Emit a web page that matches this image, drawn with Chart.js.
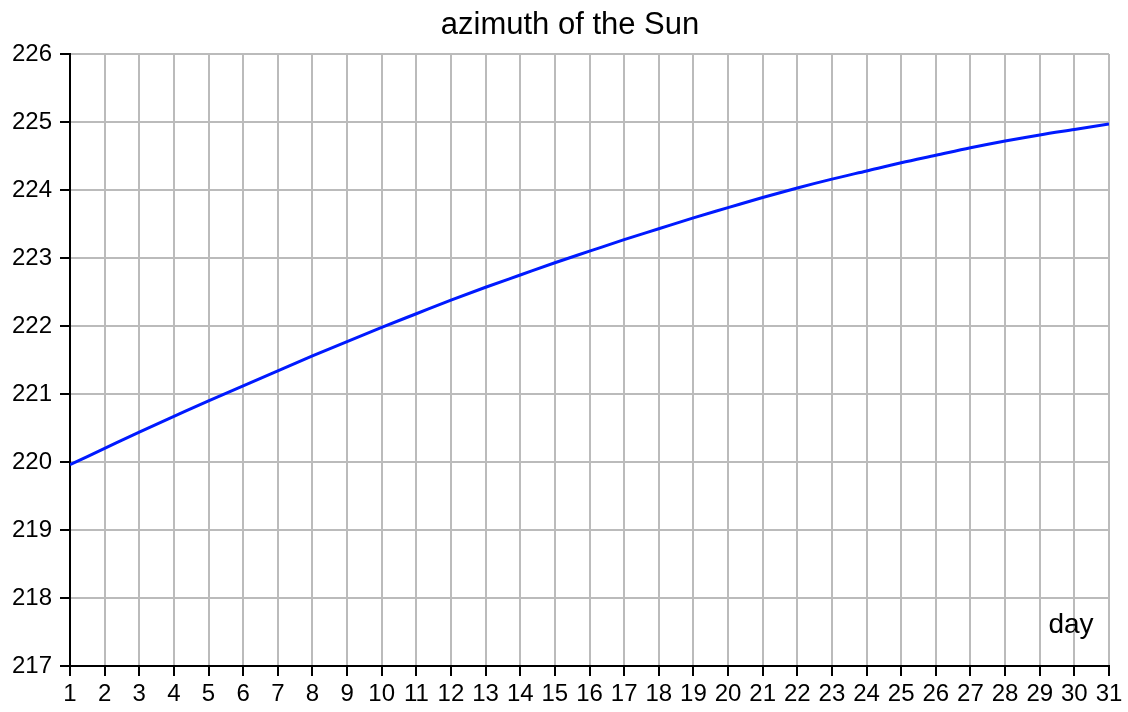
<!DOCTYPE html>
<html>
<head>
<meta charset="utf-8">
<script src="https://cdn.jsdelivr.net/npm/chart.js@4"></script>
<style>
  html, body { margin: 0; padding: 0; background: #fff; }
  #wrap { width: 1128px; height: 712px; position: relative; }
</style>
</head>
<body>
<div id="wrap"><canvas id="azimuth-chart"></canvas></div>
<script>
const chartTitle = 'azimuth of the Sun'
const xLabel = 'day'

const days = [1, 2, 3, 4, 5, 6, 7, 8, 9, 10, 11, 12, 13, 14, 15, 16, 17, 18, 19, 20, 21, 22, 23, 24, 25, 26, 27, 28, 29, 30, 31]
const azimuth = [
  219.96, 220.20, 220.44, 220.67, 220.90, 221.12, 221.34, 221.56, 221.77, 221.98,
  222.18, 222.38, 222.57, 222.75, 222.93, 223.10, 223.27, 223.43, 223.59, 223.74,
  223.89, 224.03, 224.16, 224.28, 224.40, 224.51, 224.62, 224.72, 224.81, 224.89,
  224.97
]
const yMin = 217
const yMax = 226

const fontFamily = "'Liberation Sans', Arial, sans-serif"

// title + "day" label drawn by hand so they sit where the original has them
const textPlugin = {
  id: 'texts',
  afterDraw(chart) {
    const ctx = chart.ctx
    const area = chart.chartArea
    ctx.save()
    ctx.fillStyle = '#000'
    ctx.textAlign = 'center'
    ctx.textBaseline = 'alphabetic'
    ctx.font = '31px ' + fontFamily
    ctx.fillText(chartTitle, 570, 34)
    ctx.font = '28px ' + fontFamily
    ctx.fillText(xLabel, area.right - 38, area.bottom - 33)
    ctx.restore()
  }
}

const azimuthChart = new Chart(document.getElementById('azimuth-chart'), {
  type: 'line',
  data: {
    datasets: [{
      label: chartTitle,
      data: days.map((d, i) => ({ x: d, y: azimuth[i] })),
      borderColor: 'rgb(0, 26, 255)',
      borderWidth: 3,
      pointRadius: 0,
      cubicInterpolationMode: 'monotone',
      fill: false
    }]
  },
  options: {
    responsive: true,
    maintainAspectRatio: false,
    animation: false,
    layout: {
      padding: { top: 54, right: 19, left: 0, bottom: 0 }
    },
    plugins: {
      legend: { display: false },
      title: { display: false },
      tooltip: { enabled: false }
    },
    scales: {
      x: {
        type: 'linear',
        min: days[0],
        max: days[days.length - 1],
        afterFit(scale) { scale.height = 46 },
        border: { color: '#000', width: 2 },
        grid: {
          color: '#bbbbbb',
          lineWidth: 2,
          tickColor: '#000',
          tickWidth: 2,
          tickLength: 10
        },
        ticks: {
          stepSize: 1,
          autoSkip: false,
          maxRotation: 0,
          padding: 4,
          color: '#000',
          font: { family: fontFamily, size: 24 }
        }
      },
      y: {
        min: yMin,
        max: yMax,
        afterFit(scale) { scale.width = 70 },
        border: { color: '#000', width: 2 },
        grid: {
          color: '#bbbbbb',
          lineWidth: 2,
          tickColor: '#000',
          tickWidth: 2,
          tickLength: 10
        },
        ticks: {
          stepSize: 1,
          padding: 8,
          color: '#000',
          font: { family: fontFamily, size: 24 }
        }
      }
    }
  },
  plugins: [textPlugin]
})
</script>
</body>
</html>
